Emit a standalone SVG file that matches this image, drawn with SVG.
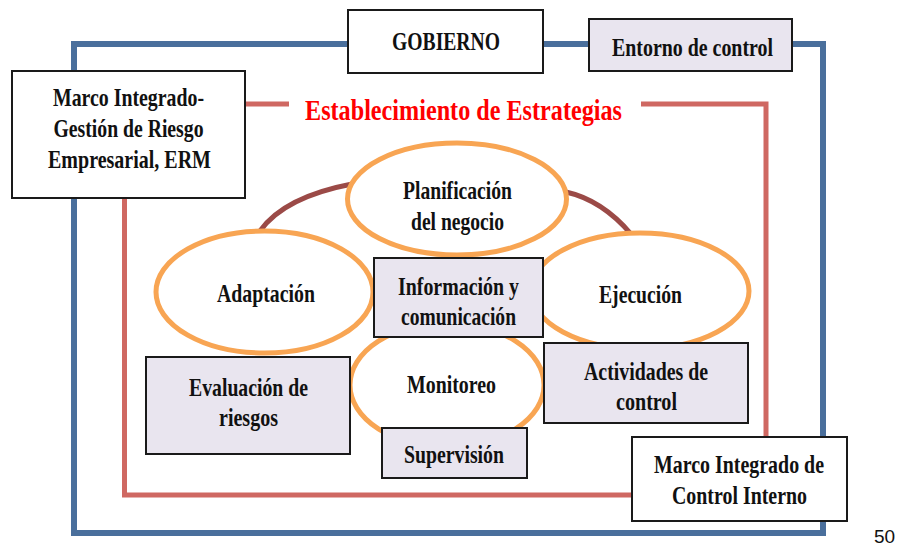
<svg xmlns="http://www.w3.org/2000/svg" width="900" height="546" viewBox="0 0 900 546">
<style>
.t{font-family:"Liberation Serif","Times New Roman",serif;font-weight:bold;font-size:26px;fill:#111;text-anchor:middle}
.ttl{font-family:"Liberation Serif","Times New Roman",serif;font-weight:bold;font-size:30px;fill:#ff0000;text-anchor:middle}
.pg{font-family:"Liberation Sans",Arial,sans-serif;font-size:19px;fill:#111}
.bw{fill:#ffffff;stroke:#1a1a1a;stroke-width:2}
.bl{fill:#e9e5ef;stroke:#1a1a1a;stroke-width:2}
.el{fill:#ffffff;stroke:#f8a553;stroke-width:5}
.blue{fill:none;stroke:#4a6f9c;stroke-width:6}
.red{fill:none;stroke:#cf6862;stroke-width:5}
.arc{fill:none;stroke:#9b4a47;stroke-width:5}
</style>
<rect width="900" height="546" fill="#ffffff"/>
<g id="connectors">
<rect class="blue" x="74" y="44" width="749" height="489"/>
<path class="red" d="M289,104 H124.5 V495 H766 V104 H641"/>
<path class="arc" d="M260,231 Q284,197 352,184"/>
<path class="arc" d="M566,192 Q602,200 631,234"/>
</g>
<g id="title">
<text class="ttl" x="463.5" y="120" textLength="317" lengthAdjust="spacingAndGlyphs">Establecimiento de Estrategias</text>
</g>
<g id="planificacion">
<ellipse class="el" cx="457" cy="199" rx="109.5" ry="56"/>
<text class="t" x="457.5" y="199" textLength="109" lengthAdjust="spacingAndGlyphs">Planificación</text>
<text class="t" x="457.5" y="230" textLength="93" lengthAdjust="spacingAndGlyphs">del negocio</text>
</g>
<g id="adaptacion">
<ellipse class="el" cx="264.5" cy="292" rx="108.5" ry="61"/>
<text class="t" x="266" y="302" textLength="98" lengthAdjust="spacingAndGlyphs">Adaptación</text>
</g>
<g id="ejecucion">
<ellipse class="el" cx="640" cy="291" rx="109" ry="58"/>
<text class="t" x="640.5" y="303" textLength="83" lengthAdjust="spacingAndGlyphs">Ejecución</text>
</g>
<g id="monitoreo">
<ellipse class="el" cx="447" cy="385" rx="97" ry="62"/>
<text class="t" x="451.5" y="393" textLength="89" lengthAdjust="spacingAndGlyphs">Monitoreo</text>
</g>
<g id="gobierno">
<rect class="bw" x="348" y="10" width="195" height="63"/>
<text class="t" x="446" y="50" textLength="108" lengthAdjust="spacingAndGlyphs">GOBIERNO</text>
</g>
<g id="entorno">
<rect class="bl" x="589" y="19" width="203" height="52"/>
<text class="t" x="692.5" y="56" textLength="161" lengthAdjust="spacingAndGlyphs">Entorno de control</text>
</g>
<g id="erm">
<rect class="bw" x="12" y="71" width="233" height="127"/>
<text class="t" x="128.5" y="106" textLength="151" lengthAdjust="spacingAndGlyphs">Marco Integrado-</text>
<text class="t" x="128.5" y="137" textLength="150" lengthAdjust="spacingAndGlyphs">Gestión de Riesgo</text>
<text class="t" x="129.5" y="168" textLength="163" lengthAdjust="spacingAndGlyphs">Empresarial, ERM</text>
</g>
<g id="informacion">
<rect class="bl" x="374" y="258" width="169" height="79"/>
<text class="t" x="458.5" y="295" textLength="121" lengthAdjust="spacingAndGlyphs">Información y</text>
<text class="t" x="458.5" y="325" textLength="115" lengthAdjust="spacingAndGlyphs">comunicación</text>
</g>
<g id="evaluacion">
<rect class="bl" x="146" y="357" width="204" height="97"/>
<text class="t" x="248.5" y="396" textLength="119" lengthAdjust="spacingAndGlyphs">Evaluación de</text>
<text class="t" x="248.5" y="426" textLength="59" lengthAdjust="spacingAndGlyphs">riesgos</text>
</g>
<g id="supervision">
<rect class="bl" x="382" y="428" width="145" height="50"/>
<text class="t" x="454" y="463" textLength="100" lengthAdjust="spacingAndGlyphs">Supervisión</text>
</g>
<g id="actividades">
<rect class="bl" x="544" y="343" width="204" height="80"/>
<text class="t" x="646" y="380" textLength="124" lengthAdjust="spacingAndGlyphs">Actividades de</text>
<text class="t" x="646.5" y="410" textLength="61" lengthAdjust="spacingAndGlyphs">control</text>
</g>
<g id="control-interno">
<rect class="bw" x="632" y="437" width="215" height="84"/>
<text class="t" x="739" y="473" textLength="170" lengthAdjust="spacingAndGlyphs">Marco Integrado de</text>
<text class="t" x="739.5" y="504" textLength="135" lengthAdjust="spacingAndGlyphs">Control Interno</text>
</g>
<g id="page-number">
<text class="pg" x="874" y="543">50</text>
</g>
</svg>
